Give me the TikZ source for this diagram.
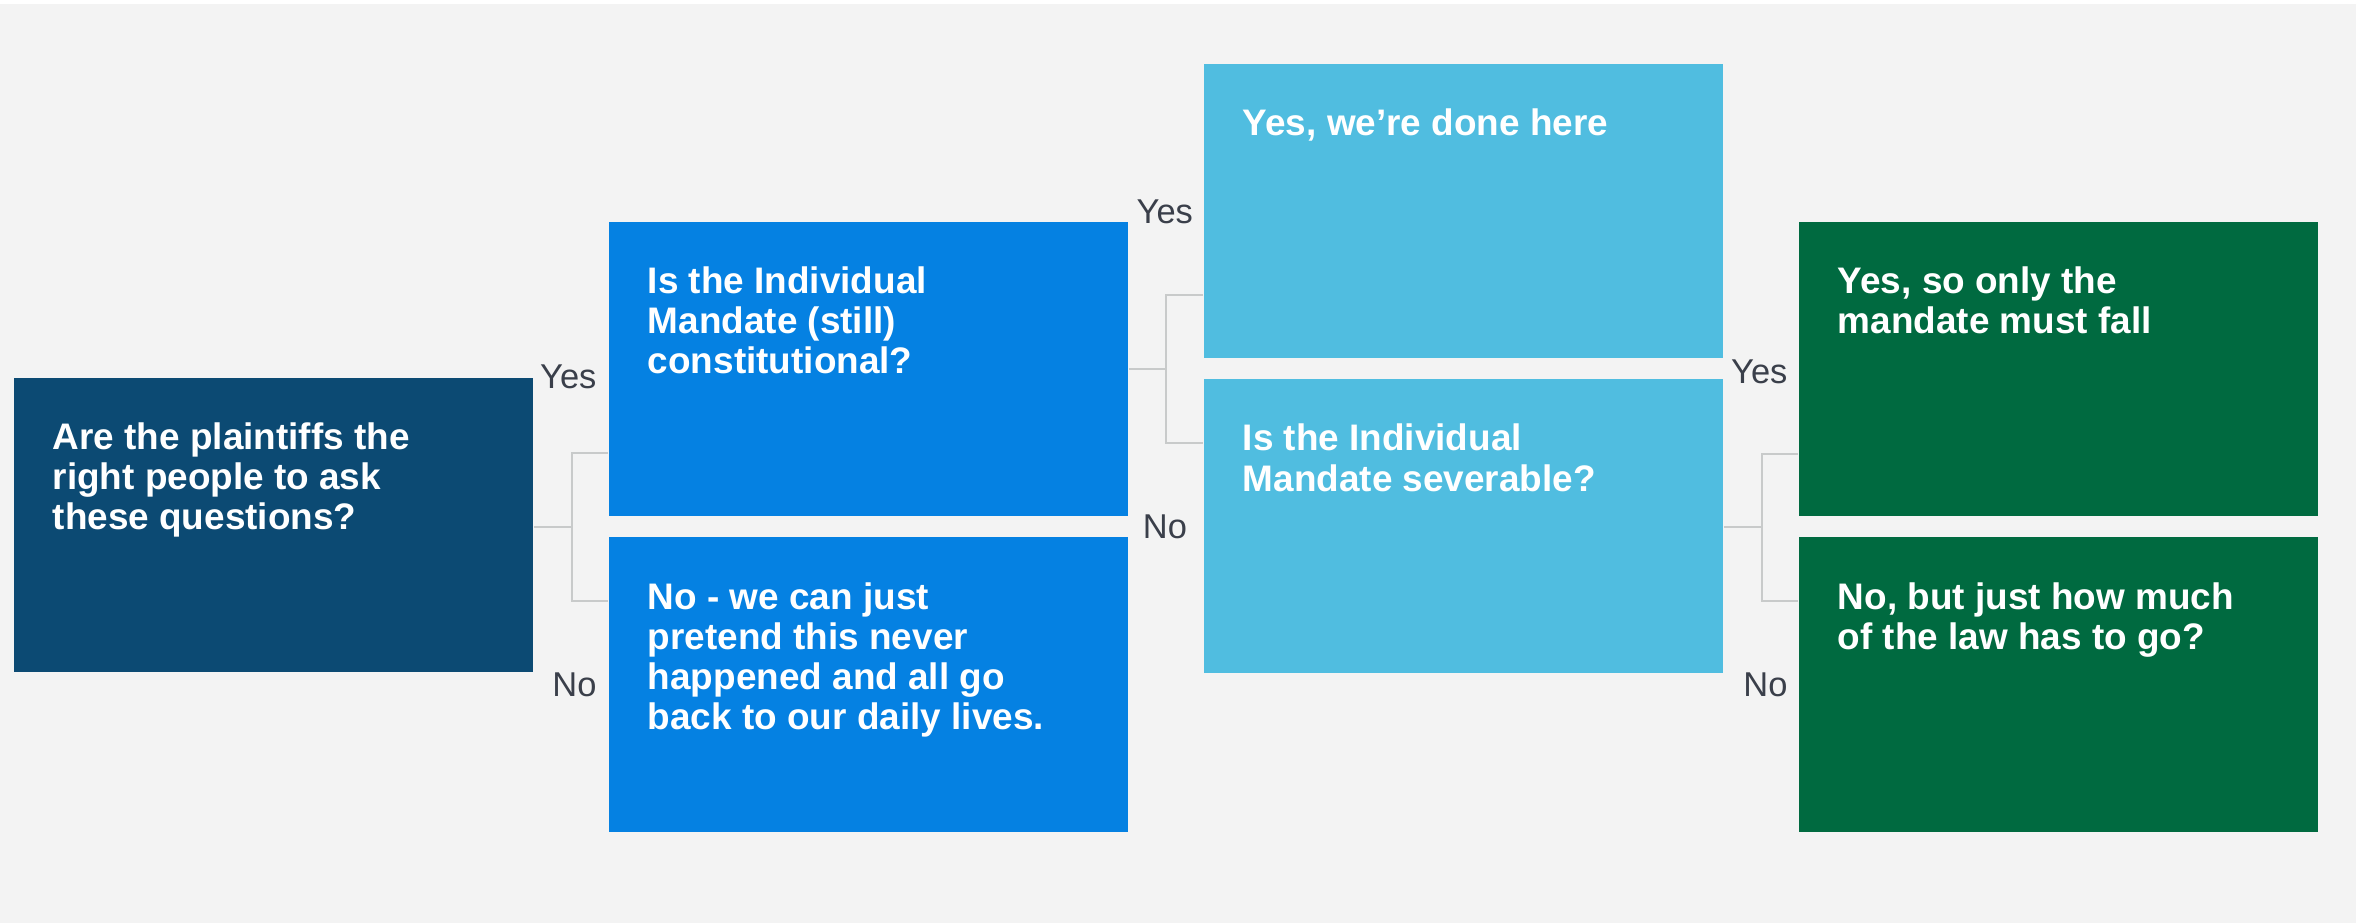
\documentclass[tikz,border=0pt]{standalone}
\usepackage{fontspec}
\setmainfont{Liberation Sans}
\usetikzlibrary{positioning}

\definecolor{bggray}{HTML}{F3F3F3}
\definecolor{rootblue}{HTML}{0C4A73}
\definecolor{midblue}{HTML}{0581E2}
\definecolor{skyblue}{HTML}{50BDE0}
\definecolor{lawgreen}{HTML}{006A40}
\definecolor{labelgray}{HTML}{3A3F4A}
\definecolor{linegray}{HTML}{C8CACA}

\tikzset{
  box/.style={rectangle, minimum width=5.19cm, minimum height=2.94cm, inner sep=0pt},
  boxtext/.style={anchor=north west, align=left, inner sep=0pt, text=white,
                  font=\fontsize{10.5}{11.4}\selectfont\bfseries},
  branch/.style={inner sep=0pt, text=labelgray, font=\fontsize{9.8}{11}\selectfont},
  conn/.style={draw=linegray, line width=0.6pt}
}

\begin{document}
\begin{tikzpicture}[x=0.01cm, y=-0.01cm]
            \useasboundingbox (0,0) rectangle (2356,923);
            \fill[bggray] (0,4) rectangle (2356,923);

            \node[box, fill=rootblue] (root) at (273.4,525) {};
            \node[box, fill=midblue] (q2) at (868.5,369) {};
            \node[box, fill=midblue] (no1) at (868.5,684.5) {};
            \node[box, fill=skyblue] (yes2) at (1463.5,211.3) {};
            \node[box, fill=skyblue] (q3) at (1463.5,526.3) {};
            \node[box, fill=lawgreen] (yes3) at (2058.5,369) {};
            \node[box, fill=lawgreen] (no3) at (2058.5,684.5) {};

            \node[boxtext] (roottxt) at ([shift={(39,45)}]root.north west) {Are the plaintiffs the\\right people to ask\\these questions?};
            \node[boxtext] (q2txt) at ([shift={(39,45)}]q2.north west) {Is the Individual\\Mandate (still)\\constitutional?};
            \node[boxtext] (no1txt) at ([shift={(39,45)}]no1.north west) {No - we can just\\pretend this never\\happened and all go\\back to our daily lives.};
            \node[boxtext] (yes2txt) at ([shift={(39,45)}]yes2.north west) {Yes, we’re done here};
            \node[boxtext] (q3txt) at ([shift={(39,45)}]q3.north west) {Is the Individual\\Mandate severable?};
            \node[boxtext] (yes3txt) at ([shift={(39,45)}]yes3.north west) {Yes, so only the\\mandate must fall};
            \node[boxtext] (no3txt) at ([shift={(39,45)}]no3.north west) {No, but just how much\\of the law has to go?};

            \coordinate (rsplit) at ([shift={(38,2)}]root.east);
            \coordinate (rtop) at ([shift={(0,-73.6)}]rsplit);
            \coordinate (rbot) at ([shift={(0,73.6)}]rsplit);
            \draw[conn] (root.east |- rsplit) -- (rsplit);
            \draw[conn] (q2.west |- rtop) -| (rbot) -- (no1.west |- rbot);

            \coordinate (qsplit) at ([shift={(37,0)}]q2.east);
            \coordinate (qtop) at ([shift={(0,-73.6)}]qsplit);
            \coordinate (qbot) at ([shift={(0,73.6)}]qsplit);
            \draw[conn] (q2.east) -- (qsplit);
            \draw[conn] (yes2.west |- qtop) -| (qbot) -- (q3.west |- qbot);

            \coordinate (ssplit) at ([shift={(38,1)}]q3.east);
            \coordinate (stop) at ([shift={(0,-73.6)}]ssplit);
            \coordinate (sbot) at ([shift={(0,73.6)}]ssplit);
            \draw[conn] (q3.east |- ssplit) -- (ssplit);
            \draw[conn] (yes3.west |- stop) -| (sbot) -- (no3.west |- sbot);

            \node[branch, left=0.11cm of q2, yshift=-0.08cm] (q2yes) {Yes};
            \node[branch, left=0.11cm of no1] (no1no) {No};
            \node[branch, left=0.095cm of yes2] (yes2yes) {Yes};
            \node[branch, left=0.155cm of q3] (q3no) {No};
            \node[branch, left=0.10cm of yes3, yshift=-0.03cm] (yes3yes) {Yes};
            \node[branch, left=0.10cm of no3] (no3no) {No};

\end{tikzpicture}
\end{document}
